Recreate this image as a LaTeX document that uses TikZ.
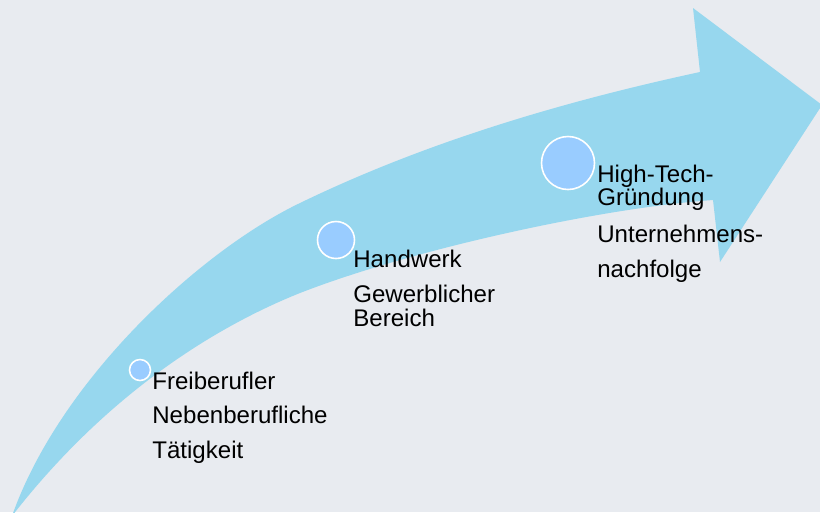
\documentclass[tikz,border=0pt]{standalone}
\usepackage{fontspec}
\setmainfont{Liberation Sans}
\usepackage{xcolor}
\definecolor{hintergrund}{RGB}{232,235,240}
\definecolor{pfeil}{RGB}{151,215,238}
\definecolor{punkt}{RGB}{153,204,255}
\begin{document}
\begin{tikzpicture}[x=0.02cm, y=-0.02cm,
  stufe/.style = {circle, fill=punkt, draw=white, line width=0.9pt, inner sep=0pt},
  etikett/.style = {anchor=base west, align=left, inner sep=0pt,
    font=\fontsize{13.7}{13.1}\selectfont}]
\fill[hintergrund] (0,0) rectangle (820,512);
\useasboundingbox (0,0) rectangle (820,512);
\clip (0,0) rectangle (820,512);
\fill[pfeil] (12,516) .. controls (60,380) and (200,251) .. (300,203)
  .. controls (430,140) and (570,100) .. (700,72) -- (693,8) -- (822,105)
  -- (720,262) -- (713,200) .. controls (600,208) and (410,250) .. (300,293)
  .. controls (220,325) and (110,390) .. (12,516) -- cycle;
\node[stufe, minimum size=0.42cm] (frei) at (140,370) {};
\node[stufe, minimum size=0.74cm] (hand) at (336,240) {};
\node[stufe, minimum size=1.06cm] (tech) at (568,163) {};
\node[etikett] (freitext) at (152,458) {Freiberufler\\[6.3pt]Nebenberufliche\\[6.3pt]Tätigkeit};
\node[etikett] (handtext) at (353,326) {Handwerk\\[7.2pt]Gewerblicher\\Bereich};
\node[etikett] (techtext) at (597,277) {High-Tech-\\Gründung\\[8pt]Unternehmens-\\[6.3pt]nachfolge};
\end{tikzpicture}
\end{document}
